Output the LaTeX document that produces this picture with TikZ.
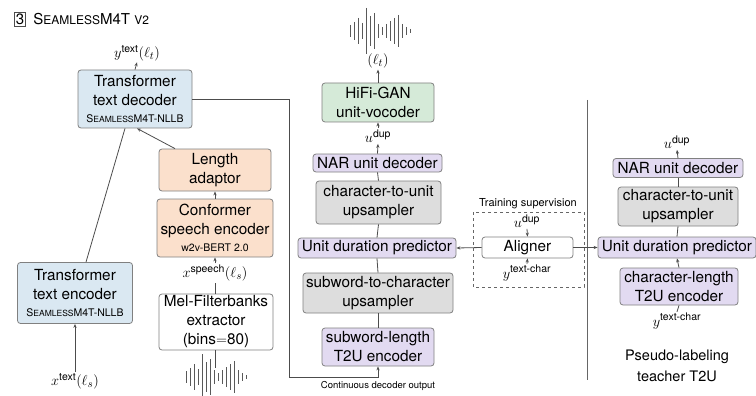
\documentclass[tikz,border=0pt]{standalone}
\usepackage{amsmath}
\usepackage{fontspec}
\setmainfont{TeX Gyre Heros}
\usetikzlibrary{arrows.meta}

\definecolor{tblue}{RGB}{218,232,242}
\definecolor{torange}{RGB}{251,224,204}
\definecolor{tgreen}{RGB}{213,234,216}
\definecolor{tlav}{RGB}{226,218,241}
\definecolor{tgray}{RGB}{221,221,221}

\newcommand{\boxfont}{\fontsize{15.3}{19}\selectfont}
\newcommand{\subfont}{\fontsize{10.5}{12}\selectfont}
\newcommand{\smnllb}{{\subfont S{\fontsize{8.5}{10}\selectfont EAMLESS}M4T-NLLB}}

\begin{document}
\begin{tikzpicture}[x=1pt,y=-1pt,>={Stealth[length=4pt,width=3.2pt]},line width=0.8pt]
    \tikzstyle{blk}=[draw=black!50,rounded corners=3pt,align=center,inner sep=1pt,font=\boxfont]
    \tikzstyle{blue blk}=[blk,fill=tblue]
    \tikzstyle{orange blk}=[blk,fill=torange]
    \tikzstyle{green blk}=[blk,fill=tgreen]
    \tikzstyle{lav blk}=[blk,fill=tlav]
    \tikzstyle{gray blk}=[blk,fill=tgray]
    \tikzstyle{white blk}=[blk,fill=white]
    \tikzstyle{lbl}=[inner sep=1pt,font=\fontsize{15}{17}\selectfont]
    \tikzstyle{conn}=[draw=black!70]
    \tikzstyle{wave}=[draw=black!65,line width=1pt]

    \useasboundingbox (0,0) rectangle (756,396);

    % Title
    \node[draw=black!70,inner sep=1.5pt,font=\fontsize{15}{15}\selectfont] (num) at (20,19) {3};
    \node[anchor=west,inner sep=0pt,font=\fontsize{15}{15}\selectfont] (title) at (33,19)
        {S{\fontsize{12}{12}\selectfont EAMLESS}M4T {\fontsize{12}{12}\selectfont V2}};

    % Left part: text and speech encoders
    \node[blue blk,minimum width=114,minimum height=58] (dec) at (135,99)
        {Transformer\\text decoder\\[-2pt]\smnllb};
    \node[orange blk,minimum width=112,minimum height=42] (len) at (215,170)
        {Length\\adaptor};
    \node[orange blk,minimum width=116,minimum height=58] (conf) at (215,228)
        {Conformer\\speech encoder\\[-2pt]{\subfont w2v-BERT 2.0}};
    \node[white blk,minimum width=114,minimum height=56] (mel) at (216,322)
        {Mel-Filterbanks\\extractor\\(bins$=$80)};
    \node[blue blk,minimum width=115,minimum height=61] (enc) at (75,293)
        {Transformer\\text encoder\\[-2pt]\smnllb};

    \node[lbl] (ytext) at (137,53) {$y^{\text{text}}(\ell_t)$};
    \node[lbl] (xspeech) at (215,273) {$x^{\text{speech}}(\ell_s)$};
    \node[lbl] (xtext) at (75,381) {$x^{\text{text}}(\ell_s)$};
    \coordinate (wavein) at (215,368);

    % Middle part: T2U with vocoder
    \node[green blk,minimum width=112,minimum height=39] (voc) at (378,102.5)
        {HiFi-GAN\\unit-vocoder};
    \node[lav blk,minimum width=129,minimum height=18] (nar) at (377.5,163)
        {NAR unit decoder};
    \node[gray blk,minimum width=125,minimum height=43] (cu) at (378.5,202.5)
        {character-to-unit\\upsampler};
    \node[lav blk,minimum width=158,minimum height=20] (udp) at (377,248)
        {Unit duration predictor};
    \node[gray blk,minimum width=150,minimum height=40] (sc) at (378,293)
        {subword-to-character\\upsampler};
    \node[lav blk,minimum width=112,minimum height=38] (swenc) at (378,347)
        {subword-length\\T2U encoder};

    \node[lbl] (lt) at (378,61) {$(\ell_t)$};
    \node[lbl] (udup) at (378,136) {$u^{\text{dup}}$};
    \node[font=\fontsize{9.5}{11}\selectfont] (cdo) at (378,386) {Continuous decoder output};
    \coordinate (turn) at (289,377);

    % Training supervision
    \draw[black!60,dashed,line width=0.6pt] (473,212) rectangle (584,287);
    \node[font=\fontsize{11}{13}\selectfont,inner sep=0pt] (ts) at (528,204) {Training supervision};
    \node[white blk,minimum width=91,minimum height=21] (align) at (527.5,247.5) {Aligner};
    \node[lbl] (audup) at (527,221) {$u^{\text{dup}}$};
    \node[lbl] (aychar) at (527,273) {$y^{\text{text-char}}$};

    % Separator
    \draw[black!60] (587,100) -- (587,380);

    % Right part: teacher T2U
    \node[lav blk,minimum width=130,minimum height=19] (rnar) at (678,168)
        {NAR unit decoder};
    \node[gray blk,minimum width=120,minimum height=39] (rcu) at (678,206.5)
        {character-to-unit\\upsampler};
    \node[lav blk,minimum width=158,minimum height=21] (rudp) at (677,247.5)
        {Unit duration predictor};
    \node[lav blk,minimum width=118,minimum height=37] (rcenc) at (679,286.5)
        {character-length\\T2U encoder};
    \node[lbl] (rudup) at (677,142) {$u^{\text{dup}}$};
    \node[lbl] (rychar) at (677,321) {$y^{\text{text-char}}$};
    \node[align=center,font=\fontsize{14.5}{21}\selectfont] (pseudo) at (677,366)
        {Pseudo-labeling\\teacher T2U};

    % Waveforms
    \foreach \h [count=\i] in {12,18,26,16,46,30,36,14,8,14,20,26,32,14,8,4}
        \draw[wave] ({346+4*\i},{31-\h/2}) -- ++(0,\h);
    \foreach \h [count=\i] in {12,18,26,16,46,30,36,14,8,14,20,26,32,14,8,4}
        \draw[wave] ({182+4*\i},{377-\h/2}) -- ++(0,\h);

    % Connections, left
    \draw[conn,->] (dec.north) -- (ytext.south);
    \draw[conn,->] ([xshift=-40pt]len.north) -- ([xshift=2pt]dec.south);
    \draw[conn] ([xshift=11pt]enc.north) -- ([xshift=-10pt]dec.south);
    \draw[conn,->] (conf.north) -- (len.south);
    \draw[conn,->] (xspeech.north) -- (conf.south);
    \draw[conn] ([xshift=-1pt]mel.north) -- (xspeech.south);
    \draw[conn] ([xshift=-1pt]mel.south) -- (wavein);
    \draw[conn,->] (xtext.north) -- (enc.south);

    % Connections, middle
    \draw[conn,->] (dec.east) -| (turn) -| (swenc.south);
    \draw[conn] (swenc.north) -- (sc.south);
    \draw[conn] (sc.north) -- (udp.south);
    \draw[conn] (udp.north) -- (cu.south);
    \draw[conn] (cu.north) -- (nar.south);
    \draw[conn,->] (nar.north) -- (udup.south);
    \draw[conn,->] (udup.north) -- (voc.south);
    \draw[conn,->] (voc.north) -- (lt.south);

    % Connections, aligner
    \draw[conn,->] (audup.south) -- (align.north);
    \draw[conn,->] (aychar.north) -- (align.south);
    \draw[conn,->] (align.west) -- (udp.east);
    \draw[conn,->] (align.east) -- (rudp.west);

    % Connections, right
    \draw[conn] (rychar.north) -- (rcenc.south);
    \draw[conn,->] (rcenc.north) -- (rudp.south);
    \draw[conn] (rudp.north) -- (rcu.south);
    \draw[conn] (rcu.north) -- (rnar.south);
    \draw[conn,->] (rnar.north) -- (rudup.south);
\end{tikzpicture}
\end{document}
